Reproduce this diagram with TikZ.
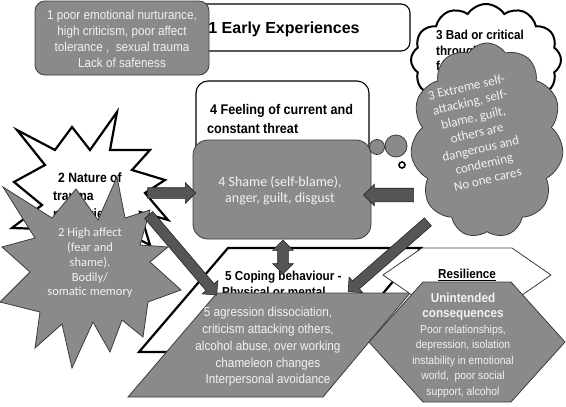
\documentclass[tikz,border=0pt]{standalone}
\usepackage{fontspec}
\setmainfont{Liberation Sans}
\newfontfamily\nar[FakeStretch=0.9]{Liberation Sans}
\newfontfamily\calfont{Carlito}
\usetikzlibrary{shapes.symbols,shapes.arrows,shapes.geometric}
\definecolor{gfill}{RGB}{138,138,138}
\definecolor{gline}{RGB}{60,60,60}
\definecolor{afill}{RGB}{85,85,85}
\definecolor{gtext}{RGB}{242,242,242}
\begin{document}
\begin{tikzpicture}[x=1pt,y=-1pt,
  wbox/.style={draw=black, line width=1.1pt, fill=white, rounded corners=9pt, inner sep=0pt},
  gbox/.style={draw=gline, line width=0.8pt, fill=gfill, rounded corners=12pt, inner sep=0pt},
  wshape/.style={draw=black, line width=2.2pt, fill=white, line join=miter},
  gshape/.style={draw=gline, line width=0.8pt, fill=gfill},
  gtxt/.style={text=gtext, align=center, inner sep=0pt},
  btxt/.style={text=black, align=left, inner sep=0pt},
  blockarrow/.style={single arrow, draw=black!85, line width=0.6pt, fill=afill,
    inner xsep=0pt, inner ysep=5pt, single arrow head extend=5pt,
    single arrow head indent=0pt, sloped, allow upside down},
  dblarrow/.style={double arrow, draw=black!85, line width=0.6pt, fill=afill,
    inner xsep=0pt, inner ysep=5pt, double arrow head extend=5pt,
    double arrow head indent=0pt, sloped, allow upside down},
  bubble/.style={circle, draw=gline, line width=0.8pt, fill=gfill, inner sep=0pt}
]
\useasboundingbox (0,0) rectangle (566,407);
\fill[white] (0,0) rectangle (566,407);

% 1 Early experiences
\node[wbox, minimum width=220pt, minimum height=47pt] (early) at (300,27.5) {};
\node[inner sep=0pt, font=\bfseries\fontsize{16}{19}\selectfont] (earlyT) at (284,29) {1 Early Experiences};
\node[gbox, rounded corners=10pt, minimum width=174pt, minimum height=74pt] (poor) at (122,38) {};
\node[gtxt, font=\nar\fontsize{13}{16}\selectfont] (poorT) at (122,39)
  {1 poor emotional nurturance,\\high criticism, poor affect\\tolerance ,\ \ sexual trauma\\Lack of safeness};

% 4 Feeling / shame
\node[wbox, rounded corners=12pt, minimum width=173pt, minimum height=119pt] (feel) at (282.5,140.5) {};
\node[btxt, anchor=west, font=\nar\bfseries\fontsize{14}{19}\selectfont] (feelT) at (207,118.5)
  {\hspace{3pt}4 Feeling of current and\\constant threat};
\node[gbox, rounded corners=15pt, minimum width=178pt, minimum height=99pt] (shame) at (282,189.5) {};
\node[gtxt, font=\calfont\fontsize{14}{15.5}\selectfont] (shameT) at (280,190.5)
  {4 Shame (self-blame),\\anger, guilt, disgust};

% 3 clouds
\node[cloud, cloud puffs=12, cloud puff arc=115, cloud ignores aspect, draw=black, line width=2pt,
  fill=white, minimum width=150pt, minimum height=112pt, inner sep=0pt] (wcloud) at (486,60) {};
\node[btxt, anchor=north west, font=\nar\bfseries\fontsize{13}{15.5}\selectfont] (wcloudT) at (436,30)
  {3 Bad or critical\\throughts/\\feelings};
\node[cloud, cloud puffs=11, cloud puff arc=115, cloud ignores aspect, draw=gline, line width=0.8pt,
  fill=gfill, minimum width=153pt, minimum height=195pt, inner sep=0pt] (gcloud) at (487,140.5) {};
\node[gtxt, rotate=13, font=\calfont\fontsize{13}{15.8}\selectfont] (gcloudT) at (477,133)
  {3 Extreme self-\\attacking, self-\\blame, guilt,\\others are\\dangerous and\\condeming\\No one cares};
\node[bubble, minimum size=15pt] (b1) at (377,147) {};
\node[bubble, minimum size=22pt] (b2) at (396,146) {};
\node[circle, draw=black, line width=1.6pt, fill=white, minimum size=6pt, inner sep=0pt] (b3) at (402,165) {};

% 2 stars
\draw[wshape] (117,112) -- (110,150) -- (150,150) -- (132,170) -- (165,180) -- (145,193)
  -- (168,220) -- (140,212) -- (150,245) -- (112,226) -- (95,252) -- (75,230) -- (12,228)
  -- (42,205) -- (14,182) -- (45,165) -- (17,130) -- (55,150) -- (72,127) -- (90,150) -- cycle;
\node[btxt, anchor=west, font=\nar\bfseries\fontsize{13.5}{18}\selectfont] (wstarT) at (53,196)
  {\hspace{5pt}2 Nature of\\trauma\\memories};
\draw[gshape] (3,187) -- (52,218) -- (76,189) -- (98,220) -- (117,177) -- (125,218) -- (150,210)
  -- (140,245) -- (168,247) -- (150,262) -- (181,290) -- (148,302) -- (143,337) -- (122,320)
  -- (110,352) -- (93,322) -- (72,368) -- (62,324) -- (35,348) -- (40,312) -- (0,302)
  -- (30,272) -- (2,247) -- (35,238) -- cycle;
\node[gtxt, font=\calfont\fontsize{12.5}{14.8}\selectfont] (gstarT) at (90,263)
  {2 High affect\\(fear and\\shame).\\Bodily/\\somatic memory};

% 5 coping
\draw[wshape] (228,248) -- (421,248) -- (334,352) -- (139,352) -- cycle;
\node[btxt, anchor=west, font=\nar\bfseries\fontsize{13}{16}\selectfont] (wparT) at (222,285)
  {\hspace{3pt}5 Coping behaviour -\\Physical or mental};
\draw[gshape] (217,293) -- (410,293) -- (323,397) -- (128,397) -- cycle;
\node[gtxt, font=\nar\fontsize{13}{16.7}\selectfont] (gparT) at (268,347)
  {5 agression dissociation,\\criticism attacking others,\\alcohol abuse, over working\\chameleon changes\\Interpersonal avoidance};

% resilience hexagons
\draw[draw=gline, line width=0.8pt, fill=white] (383,275) -- (422,248) -- (512,248) -- (551,275)
  -- (512,302) -- (422,302) -- cycle;
\node[inner sep=0pt, font=\nar\bfseries\fontsize{13}{15}\selectfont] (resT) at (467,275) {\underline{Resilience}};
\draw[gshape] (369,342) -- (423,282) -- (511,282) -- (565,342) -- (511,402) -- (423,402) -- cycle;
\node[gtxt, font=\nar\fontsize{11.5}{15.5}\selectfont] (unT) at (463,345)
  {{\bfseries\fontsize{13}{15.5}\selectfont Unintended}\\{\bfseries\fontsize{13}{15.5}\selectfont consequences}\\Poor relationships,\\depression, isolation\\instability in emotional\\world,\ \ poor social\\support, alcohol};

% arrows
\coordinate (aA1) at (145,193); \coordinate (aA2) at (193,193);
\path (aA1) -- node[blockarrow, minimum height=48pt] (arrA) {} (aA2);
\coordinate (aB1) at (417,195); \coordinate (aB2) at (367,195);
\path (aB1) -- node[blockarrow, minimum height=50pt, inner ysep=6.5pt, single arrow head extend=4pt] (arrB) {} (aB2);
\coordinate (aC1) at (283,240); \coordinate (aC2) at (283,274);
\path (aC1) -- node[dblarrow, minimum height=34pt] (arrC) {} (aC2);
\coordinate (aD1) at (147,213); \coordinate (aD2) at (215,293);
\path (aD1) -- node[blockarrow, minimum height=105pt] (arrD) {} (aD2);
\coordinate (aE1) at (430,220); \coordinate (aE2) at (350,290);
\path (aE1) -- node[blockarrow, minimum height=106pt] (arrE) {} (aE2);
\end{tikzpicture}
\end{document}
